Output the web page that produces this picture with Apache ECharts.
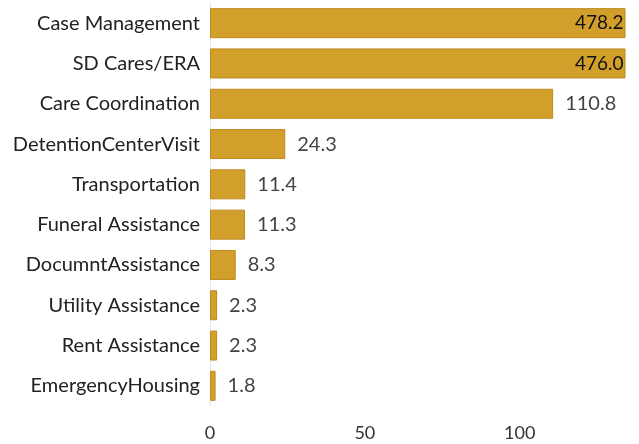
<!DOCTYPE html>
<html><head><meta charset="utf-8">
<script src="https://cdn.jsdelivr.net/npm/echarts@6/dist/echarts.min.js"></script>
<style>html,body{margin:0;padding:0;background:#fff}#c{width:639px;height:444px}</style>
</head><body><div id="c"></div>
<script>
const categories = ["Case Management","SD Cares/ERA","Care Coordination","DetentionCenterVisit","Transportation","Funeral Assistance","DocumntAssistance","Utility Assistance","Rent Assistance","EmergencyHousing"];
const values = [478.2, 476.0, 110.8, 24.3, 11.4, 11.3, 8.3, 2.3, 2.3, 1.8];
const xTicks = [0, 50, 100];
const axisMax = 134;

const FONT = 'Lato';
const chart = echarts.init(document.getElementById('c'));
chart.setOption({
  animation: false,
  grid: {left: 210, top: 3, width: 415, height: 403, containLabel: false},
  xAxis: {
    type: 'value', min: 0, max: axisMax, interval: 50,
    axisLine: {show: false}, axisTick: {show: false}, splitLine: {show: false},
    axisLabel: {margin: 18, fontFamily: FONT, fontSize: 18, color: '#333',
      formatter: v => xTicks.includes(v) ? String(v) : ''}
  },
  yAxis: {
    type: 'category', inverse: true, data: categories,
    axisLine: {show: true, lineStyle: {color: '#dfe6f0', width: 1}}, axisTick: {show: false},
    axisLabel: {margin: 10, fontFamily: FONT, fontSize: 20, color: '#222'}
  },
  series: [{
    type: 'bar', barWidth: 30, clip: true,
    data: values.map(v => ({
      value: v,
      label: v > axisMax
        ? {show: true, position: 'insideRight', distance: 2, color: '#111', fontSize: 19}
        : {show: true, position: 'right', distance: 12, color: '#444', fontSize: 20}
    })),
    itemStyle: {color: '#D2A02A', borderColor: '#BC8A1E', borderWidth: 1},
    label: {fontFamily: FONT, formatter: p => p.value.toFixed(1)}
  }]
});
</script></body></html>
